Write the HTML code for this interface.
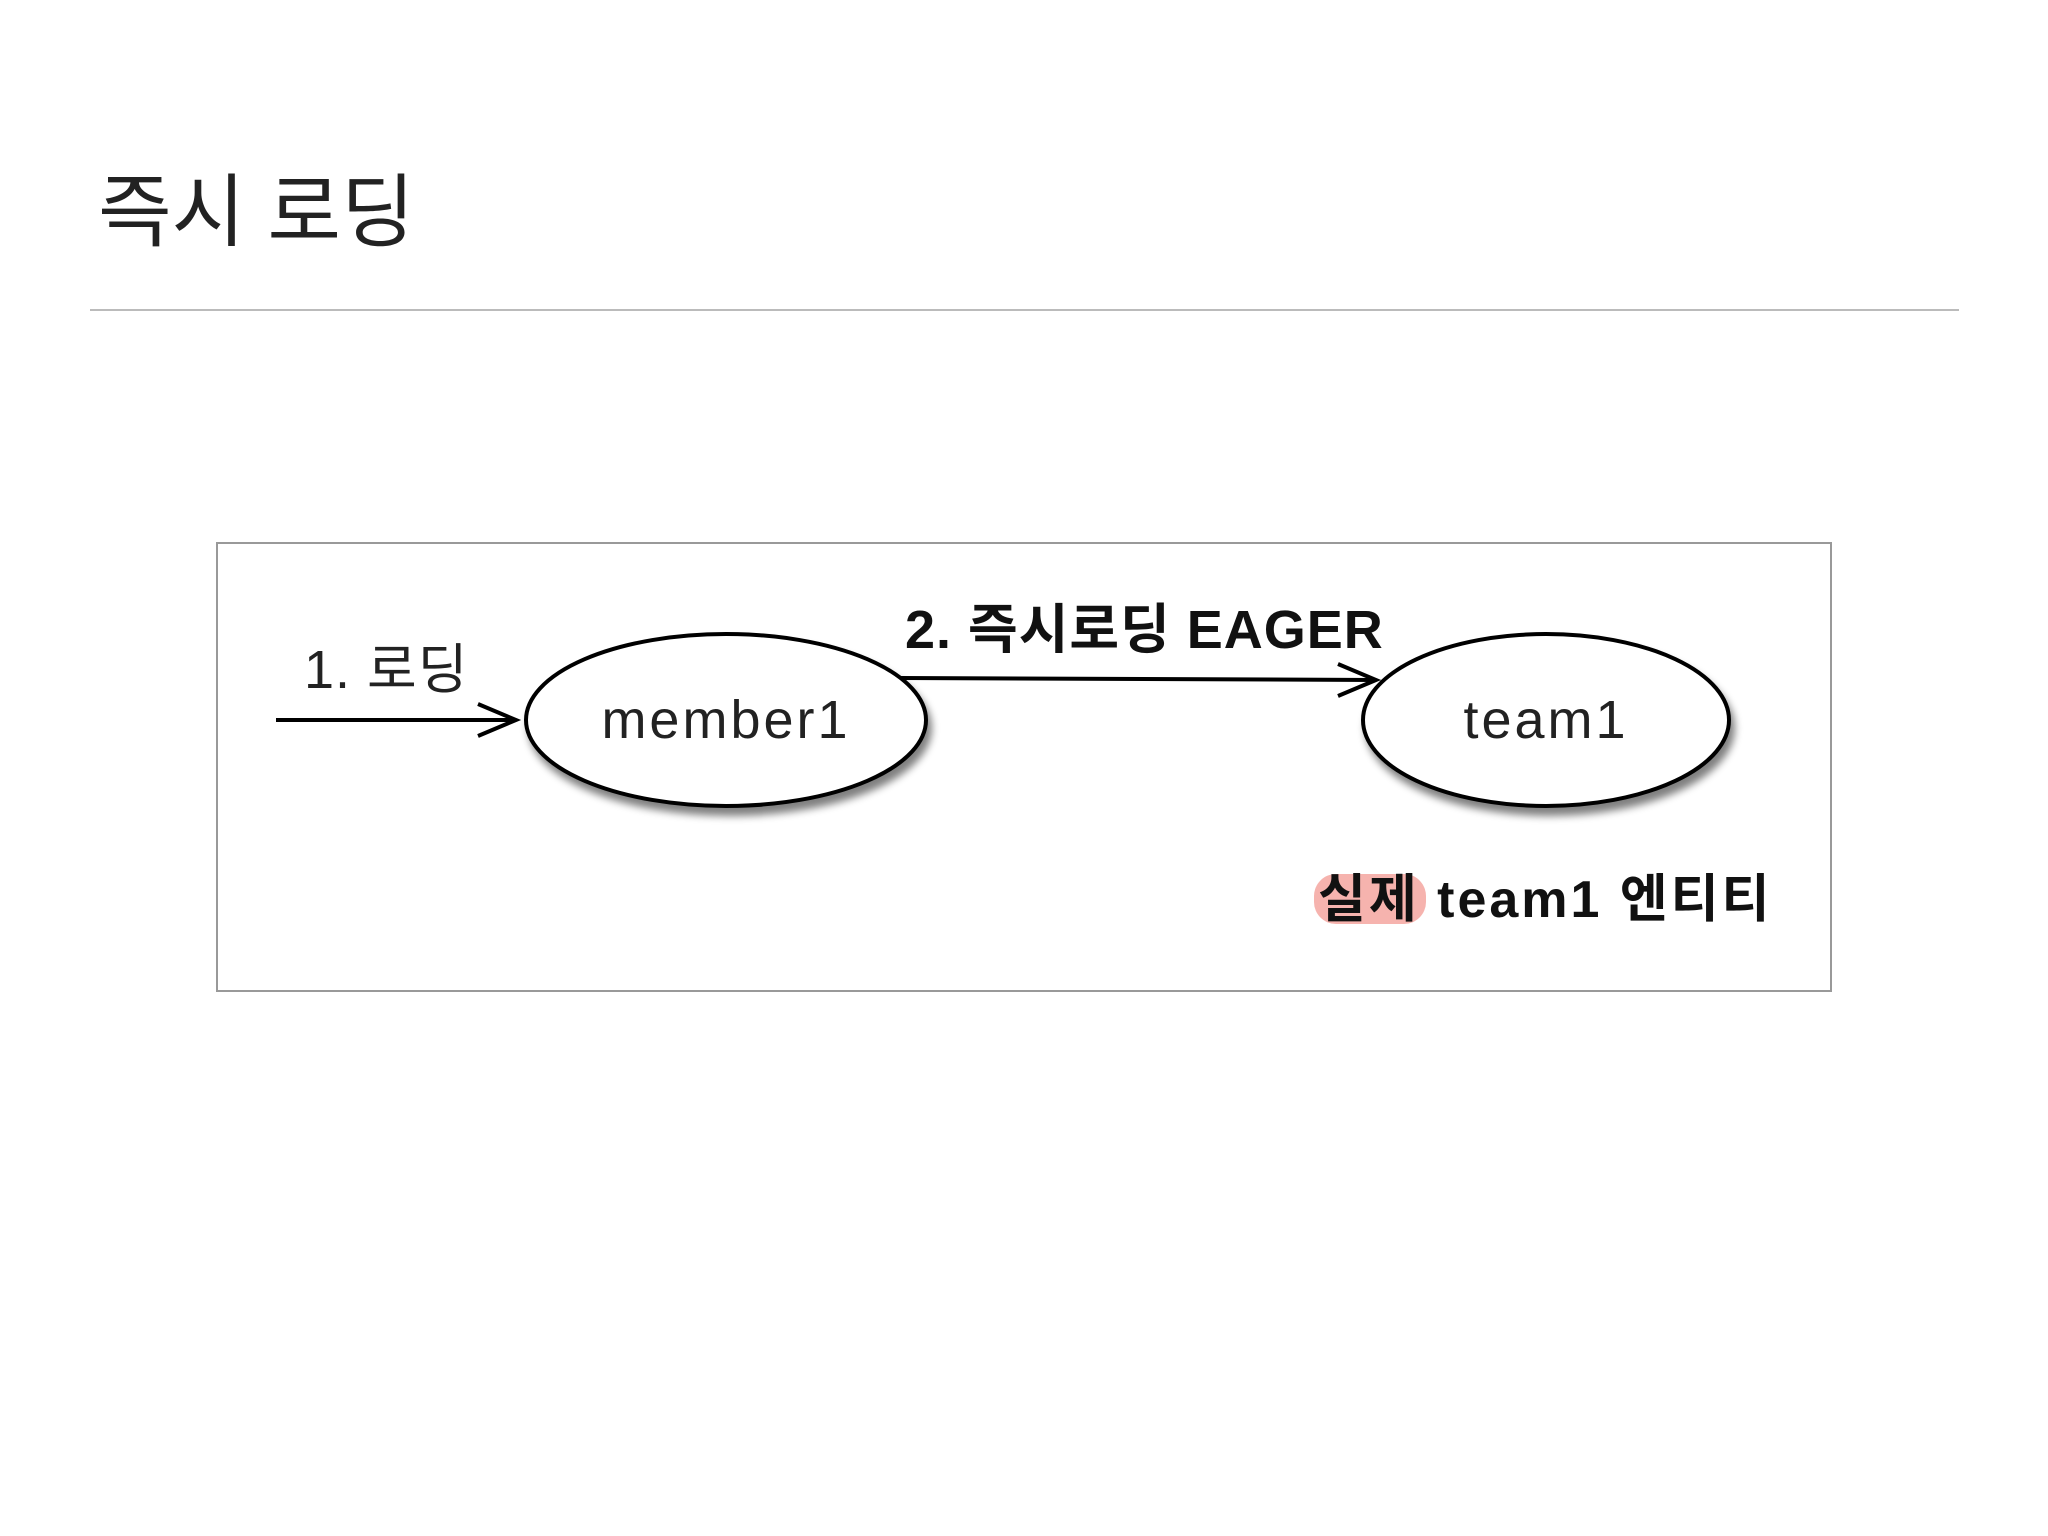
<!DOCTYPE html>
<html><head><meta charset="utf-8"><style>
html,body{margin:0;padding:0;background:#fff;}
body{width:2048px;height:1536px;position:relative;overflow:hidden;font-family:"Liberation Sans","Noto Sans CJK KR",sans-serif;}
</style></head><body>
<svg width="2048" height="1536" xmlns="http://www.w3.org/2000/svg" style="position:absolute;left:0;top:0">
<defs>
<filter id="sh" x="-20%" y="-20%" width="140%" height="150%"><feGaussianBlur in="SourceAlpha" stdDeviation="4"/><feOffset dx="4" dy="8"/><feComponentTransfer><feFuncA type="linear" slope="0.5"/></feComponentTransfer><feMerge><feMergeNode/><feMergeNode in="SourceGraphic"/></feMerge></filter>
</defs>
<text x="98" y="240" font-size="80" fill="#222" font-family="Liberation Sans, Noto Sans CJK KR, sans-serif">즉시 로딩</text>
<line x1="90" y1="310" x2="1959" y2="310" stroke="#bbb" stroke-width="2"/>
<rect x="217" y="543" width="1614" height="448" fill="#fff" stroke="#999" stroke-width="2"/>
<ellipse cx="726" cy="720" rx="200" ry="86" fill="#fff" stroke="#000" stroke-width="4" filter="url(#sh)"/>
<ellipse cx="1546" cy="720" rx="183" ry="86" fill="#fff" stroke="#000" stroke-width="4" filter="url(#sh)"/>
<text x="726" y="738" font-size="54" text-anchor="middle" fill="#222" letter-spacing="3">member1</text>
<text x="1546" y="738" font-size="54" text-anchor="middle" fill="#222" letter-spacing="3">team1</text>
<line x1="276" y1="720" x2="516" y2="720" stroke="#000" stroke-width="4"/>
<polyline points="478,704 516,720 478,736" fill="none" stroke="#000" stroke-width="4"/>
<text x="304" y="688" font-size="54" fill="#222" letter-spacing="1">1. 로딩</text>
<line x1="901" y1="678" x2="1376" y2="680" stroke="#000" stroke-width="4"/>
<polyline points="1338,664 1376,680 1338,696" fill="none" stroke="#000" stroke-width="4"/>
<text x="905" y="648" font-size="54" font-weight="bold" fill="#111" letter-spacing="1">2. 즉시로딩 EAGER</text>
<rect x="1314" y="874" width="112" height="50" rx="22" fill="#f4a6a0" opacity="0.85"/>
<text x="1318" y="917" font-size="52" font-weight="bold" fill="#111" letter-spacing="3">실제 team1 엔티티</text>
</svg>
</body></html>
